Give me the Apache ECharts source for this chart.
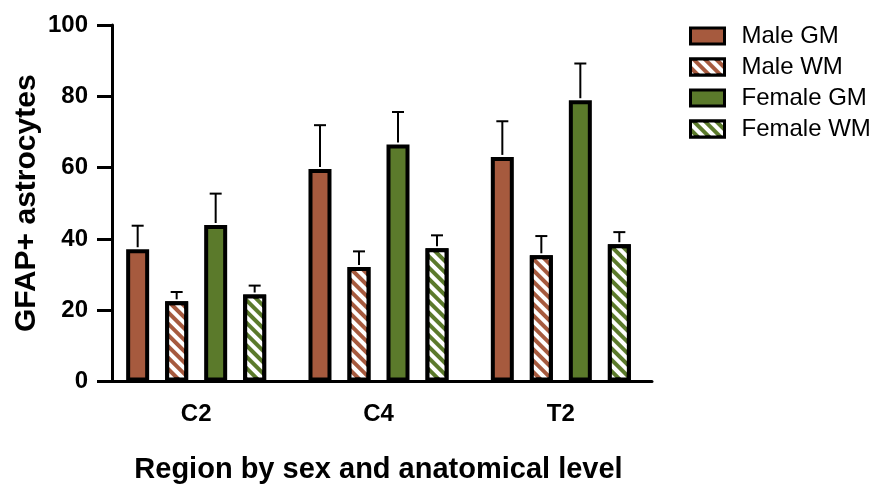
<!DOCTYPE html>
<html>
<head>
<meta charset="utf-8">
<script src="https://cdn.jsdelivr.net/npm/echarts@6/dist/echarts.min.js"></script>
<style>html,body{margin:0;padding:0;background:#fff}#c{width:876px;height:484px}</style>
</head>
<body>
<div id="c"></div>
<script>
const categories = ['C2', 'C4', 'T2'];
const seriesNames = ['Male GM', 'Male WM', 'Female GM', 'Female WM'];
const maleGM = [37.1, 59.6, 63.0];
const maleGMErr = [6.6, 12.3, 10.0];
const maleWM = [22.5, 32.1, 35.4];
const maleWMErr = [2.6, 4.4, 5.4];
const femaleGM = [43.9, 66.5, 78.9];
const femaleGMErr = [8.8, 9.1, 10.3];
const femaleWM = [24.4, 37.4, 38.5];
const femaleWMErr = [2.5, 3.6, 3.4];
const yTicks = [0, 20, 40, 60, 80, 100];

const BROWN = '#A65A3E';
const GREEN = '#5B7A2B';
const BAR_W = 23;
const PITCH = 39;
const GAP = PITCH - BAR_W;

const stripe = {
  symbol: 'rect', symbolSize: 1, color: '#ffffff',
  dashArrayX: [1, 0], dashArrayY: [3.8, 3.8], rotation: Math.PI / 4
};

const means = [maleGM, maleWM, femaleGM, femaleWM];
const errs = [maleGMErr, maleWMErr, femaleGMErr, femaleWMErr];
const colors = [BROWN, BROWN, GREEN, GREEN];
const striped = [false, true, false, true];

const errData = [];
for (let s = 0; s < 4; s++) {
  for (let c = 0; c < categories.length; c++) {
    errData.push([c, s, means[s][c], errs[s][c]]);
  }
}

const barSeries = seriesNames.map((n, i) => ({
  name: n,
  type: 'bar',
  barWidth: BAR_W,
  barGap: (GAP / BAR_W * 100).toFixed(1) + '%',
  data: means[i],
  itemStyle: Object.assign({
    color: colors[i], borderColor: '#000', borderWidth: 4
  }, striped[i] ? { decal: stripe } : {}),
  z: 2
}));

const fontFam = 'Liberation Sans, Arial, sans-serif';

const chart = echarts.init(document.getElementById('c'), null, { renderer: 'canvas' });
chart.setOption({
  animation: false,
  aria: { enabled: false },
  grid: { left: 105, right: 224, top: 25, bottom: 102.5, containLabel: false, outerBoundsMode: 'none' },
  legend: {
    orient: 'vertical', left: 684, top: 19,
    itemWidth: 34, itemHeight: 16, itemGap: 7,
    icon: 'rect',
    data: seriesNames,
    itemStyle: { borderColor: '#000', borderWidth: 3 },
    textStyle: { fontFamily: fontFam, fontSize: 24, color: '#000', padding: [0, 0, 0, 12] }
  },
  xAxis: {
    type: 'category', data: categories,
    axisLine: { lineStyle: { color: '#000', width: 3 } },
    axisTick: { alignWithLabel: true, length: 7, lineStyle: { color: '#000', width: 3 } },
    axisLabel: { fontFamily: fontFam, fontSize: 24, fontWeight: 'bold', color: '#000', margin: 21 },
    name: 'Region by sex and anatomical level', nameLocation: 'middle', nameGap: 74,
    nameTextStyle: { fontFamily: fontFam, fontSize: 29, fontWeight: 'bold', color: '#000' }
  },
  yAxis: {
    type: 'value', min: 0, max: 100, interval: 20, offset: -7,
    axisLine: { show: true, lineStyle: { color: '#000', width: 3 } },
    axisTick: { show: true, length: 15, lineStyle: { color: '#000', width: 3 } },
    axisLabel: { fontFamily: fontFam, fontSize: 24, fontWeight: 'bold', color: '#000', margin: 24,
      formatter: v => yTicks.indexOf(v) >= 0 ? String(v) : '' },
    splitLine: { show: false },
    name: 'GFAP+ astrocytes', nameLocation: 'middle', nameGap: 70, nameMoveOverlap: false,
    nameTextStyle: { fontFamily: fontFam, fontSize: 30, fontWeight: 'bold', color: '#000' }
  },
  series: barSeries.concat([{
    type: 'custom',
    name: 'err',
    data: errData,
    z: 3,
    silent: true,
    renderItem: function (params, api) {
      const c = api.value(0), s = api.value(1), m = api.value(2), e = api.value(3);
      const base = api.coord([c, m]);
      const top = api.coord([c, m + e]);
      const x = base[0] + (s - 1.5) * PITCH;
      const half = 6;
      return {
        type: 'group',
        children: [
          { type: 'line', shape: { x1: x, y1: base[1] - 2, x2: x, y2: top[1] }, style: { stroke: '#000', lineWidth: 2 } },
          { type: 'line', shape: { x1: x - half, y1: top[1], x2: x + half, y2: top[1] }, style: { stroke: '#000', lineWidth: 2 } }
        ]
      };
    }
  }])
});
</script>
</body>
</html>
